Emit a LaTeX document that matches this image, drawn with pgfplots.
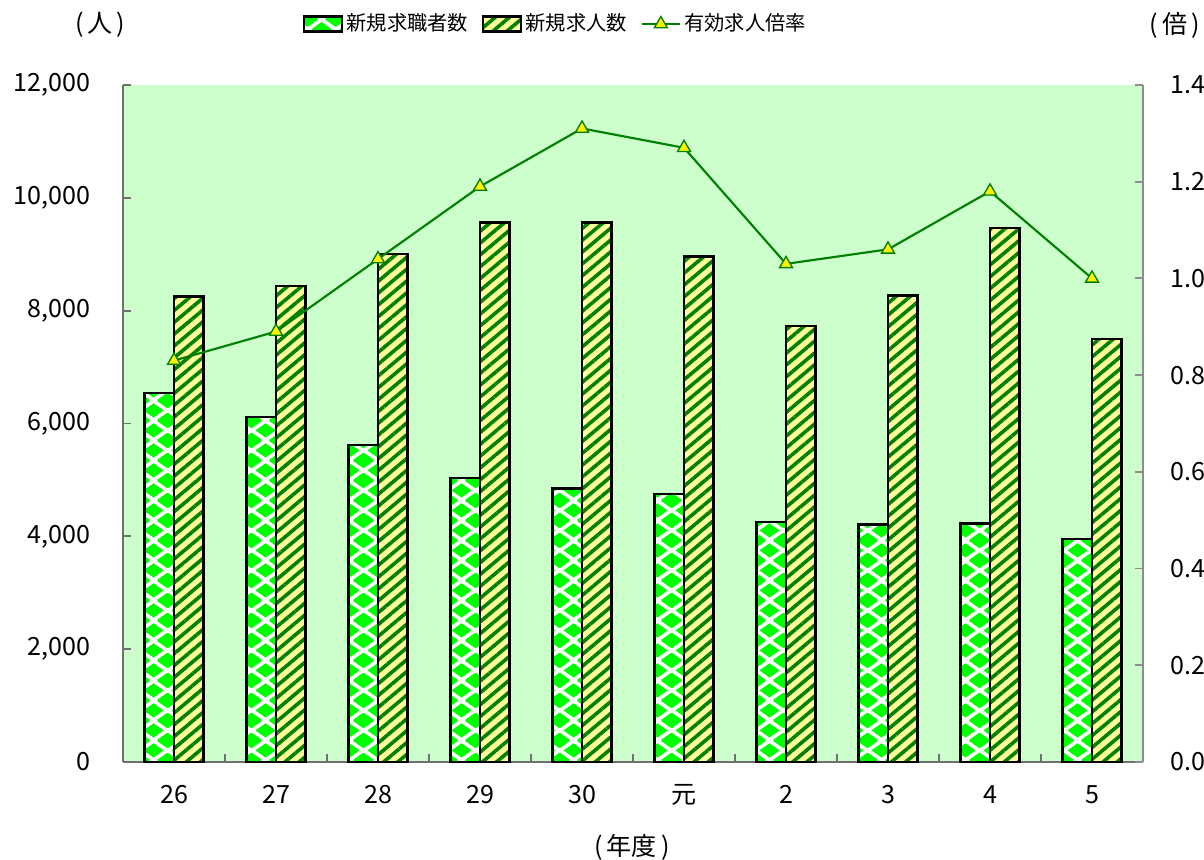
\documentclass[border=0pt]{standalone}
\usepackage{fontspec}
\setmainfont{Noto Sans CJK JP}
\usepackage{pgfplots}
\pgfplotsset{compat=1.18}
\usetikzlibrary{patterns,patterns.meta}

\definecolor{bgreen}{HTML}{CCFFCC}
\definecolor{lime}{HTML}{00FF00}
\definecolor{dgreen}{HTML}{008000}
\definecolor{lyellow}{HTML}{FFFF99}
\definecolor{axgray}{HTML}{707070}

% green diamonds on a staggered grid (laid over a white fill)
\def\gdia#1#2{%
  \pgfpathmoveto{\pgfpoint{#1-3.9pt}{#2}}%
  \pgfpathlineto{\pgfpoint{#1}{#2+2.8pt}}%
  \pgfpathlineto{\pgfpoint{#1+3.9pt}{#2}}%
  \pgfpathlineto{\pgfpoint{#1}{#2-2.8pt}}%
  \pgfpathclose}
\pgfdeclarepatternformonly{gdiamonds}{\pgfpointorigin}{\pgfpoint{10.5pt}{7.5pt}}{\pgfpoint{10.5pt}{7.5pt}}{%
  \gdia{5.25pt}{3.75pt}%
  \gdia{0pt}{0pt}\gdia{10.5pt}{0pt}\gdia{0pt}{7.5pt}\gdia{10.5pt}{7.5pt}%
  \pgfusepath{fill}}

\tikzset{
  seekers/.style={draw=black, line width=0.9pt, fill=white,
    postaction={pattern=gdiamonds, pattern color=lime}},
  offers/.style={draw=black, line width=0.9pt, fill=lyellow,
    postaction={pattern={Lines[angle=40,distance=3.4pt,line width=1.35pt]}, pattern color=dgreen}},
}
\pgfplotsset{
  boxlegend/.style={legend image code/.code={\draw[##1] (0pt,-2.8pt) rectangle (14.25pt,2.8pt);}},
  linelegend/.style={legend image code/.code={\draw[##1, mark repeat=2, mark phase=2] plot coordinates {(0pt,0pt) (7.1pt,0pt) (14.25pt,0pt)};}},
}

\begin{document}
\begin{tikzpicture}
\path[use as bounding box] (-46.125pt,-36.375pt) rectangle (405.375pt,285.75pt);
\pgfplotsset{
  every axis/.append style={
    scale only axis, width=382.5pt, height=253.9pt,
    xmin=-0.5, xmax=9.5,
    font=\fontsize{9.4pt}{11pt}\selectfont,
    /pgf/number format/assume math mode=true,
    tick align=inside,
    major tick length=3pt, minor tick length=3pt,
  },
}
\begin{axis}[
    clip=false,
    axis x line*=bottom, axis y line*=left,
    axis line style={axgray, line width=0.7pt},
    every tick/.style={axgray, line width=0.7pt},
    axis background/.style={fill=bgreen},
    ymin=0, ymax=12000,
    ytick={0,2000,4000,6000,8000,10000,12000},
    scaled y ticks=false,
    yticklabel style={/pgf/number format/1000 sep={,}, anchor=east, inner sep=0pt, xshift=-12.2pt},
    xtick={0,...,9},
    xticklabels={26,27,28,29,30,元,2,3,4,5},
    major x tick style={draw=none},
    minor xtick={0.5,1.5,...,8.5},
    xticklabel style={anchor=base, inner sep=0pt, yshift=-15.4pt},
    xlabel={(\kern1.5pt年度\kern1.5pt)},
    xlabel style={at={(axis description cs:0.499,-0.1256)}, anchor=center},
  ]
\addplot[ybar, bar width=0.29, bar shift=-0.145, seekers] coordinates {
  (0,6540) (1,6110) (2,5620) (3,5030) (4,4850)
  (5,4750) (6,4250) (7,4210) (8,4230) (9,3950)
};
\addplot[ybar, bar width=0.29, bar shift=0.145, offers] coordinates {
  (0,8250) (1,8440) (2,9000) (3,9560) (4,9560)
  (5,8960) (6,7730) (7,8270) (8,9460) (9,7500)
};
\node at (axis description cs:-0.0225,1.0886) {(\kern1.5pt人\kern1.5pt)};
\node at (axis description cs:1.031,1.0886) {(\kern1.5pt倍\kern1.5pt)};
\end{axis}

\begin{axis}[
    axis x line=none, axis y line*=right,
    axis line style={axgray!80, line width=0.7pt},
    every tick/.style={axgray!80, line width=0.7pt},
    ymin=0, ymax=1.4,
    ytick={0,0.2,0.4,0.6,0.8,1.0,1.2,1.4},
    yticklabel style={/pgf/number format/.cd, fixed, fixed zerofill, precision=1, /tikz/.cd, anchor=west, inner sep=0pt, xshift=10pt},
    legend columns=3,
    legend style={draw=none, fill=none, at={(0.4245,1.09)}, anchor=center,
      font=\fontsize{7.6pt}{9pt}\selectfont,
      nodes={inner sep=1.2pt},
      /tikz/every even column/.append style={column sep=4pt}},
    legend cell align=left,
  ]
\addlegendimage{seekers, boxlegend}
\addlegendentry{新規求職者数}
\addlegendimage{offers, boxlegend}
\addlegendentry{新規求人数}
\addplot[dgreen, line width=0.8pt, mark=triangle*, mark size=2.8pt,
  mark options={fill=yellow, draw=dgreen, line width=0.5pt}, linelegend]
  coordinates {
  (0,0.83) (1,0.89) (2,1.04) (3,1.19) (4,1.31)
  (5,1.27) (6,1.03) (7,1.06) (8,1.18) (9,1.00)
};
\addlegendentry{有効求人倍率}
\end{axis}
\end{tikzpicture}
\end{document}
